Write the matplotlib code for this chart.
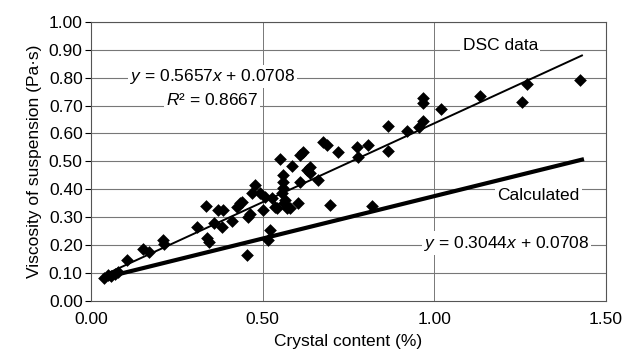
import matplotlib
matplotlib.use('Agg')
import matplotlib.pyplot as plt
import numpy as np

plt.rcParams['font.family'] = ['Liberation Sans', 'DejaVu Sans']
plt.rcParams['mathtext.fontset'] = 'custom'
plt.rcParams['mathtext.it'] = 'Liberation Sans:italic'
plt.rcParams['mathtext.rm'] = 'Liberation Sans'

# measured points (crystal content %, viscosity Pa.s)
crystal = [0.038, 0.050, 0.058, 0.070, 0.079, 0.105, 0.152, 0.169, 0.210, 0.212,
           0.309, 0.335, 0.338, 0.344, 0.359, 0.370, 0.385, 0.382, 0.411, 0.426,
           0.434, 0.440, 0.458, 0.455, 0.463, 0.469, 0.478, 0.493, 0.501, 0.507,
           0.516, 0.522, 0.528, 0.536, 0.542, 0.551, 0.557, 0.560, 0.560, 0.560,
           0.563, 0.566, 0.571, 0.580, 0.586, 0.603, 0.609, 0.609, 0.618, 0.630,
           0.638, 0.638, 0.662, 0.676, 0.688, 0.697, 0.720, 0.776, 0.778, 0.808,
           0.819, 0.866, 0.866, 0.921, 0.956, 0.968, 0.968, 0.968, 1.020, 1.134,
           1.254, 1.271, 1.423]
viscosity = [0.082, 0.092, 0.088, 0.095, 0.103, 0.146, 0.186, 0.175, 0.218, 0.205,
             0.264, 0.340, 0.225, 0.211, 0.279, 0.326, 0.326, 0.264, 0.286, 0.336,
             0.350, 0.354, 0.300, 0.164, 0.310, 0.386, 0.415, 0.386, 0.326, 0.372,
             0.218, 0.254, 0.369, 0.337, 0.332, 0.509, 0.386, 0.404, 0.425, 0.450,
             0.350, 0.360, 0.332, 0.332, 0.483, 0.350, 0.425, 0.523, 0.534, 0.470,
             0.480, 0.459, 0.434, 0.570, 0.560, 0.343, 0.534, 0.552, 0.515, 0.559,
             0.339, 0.627, 0.537, 0.609, 0.623, 0.645, 0.709, 0.727, 0.688, 0.734,
             0.713, 0.777, 0.792]

# trend lines
dsc_slope, dsc_icpt = 0.5657, 0.0708
calc_slope, calc_icpt = 0.3044, 0.0708
line_range = [0.035, 1.43]

fs = 12.5
fig = plt.figure(figsize=(6.26, 3.6), dpi=100)
ax = fig.add_axes([0.1454, 0.1647, 0.8226, 0.7743])

ax.set_xlim(0, 1.5)
ax.set_ylim(0, 1.0)
ax.set_xticks([0, 0.5, 1.0, 1.5])
ax.set_yticks(np.arange(0, 1.01, 0.1))
ax.set_xticklabels(['%.2f' % v for v in [0, 0.5, 1.0, 1.5]])
ax.set_yticklabels(['%.2f' % v for v in np.arange(0, 1.01, 0.1)])
ax.tick_params(labelsize=fs, length=4, width=0.8, color='black', pad=2)
ax.tick_params(axis='x', length=0, pad=8)

for yv in np.arange(0.1, 1.01, 0.1):
    ax.axhline(yv, color='#777777', lw=0.8, zorder=0)
for xv in [0.5, 1.0]:
    ax.axvline(xv, color='#777777', lw=0.7, zorder=0)
for s in ax.spines.values():
    s.set_linewidth(0.8)
    s.set_color('#555555')

xl = np.array(line_range)
ax.plot(xl, dsc_slope * xl + dsc_icpt, color='black', lw=1.4, zorder=2)
ax.plot(xl, calc_slope * xl + calc_icpt, color='black', lw=3.0, zorder=2)
ax.scatter(crystal, viscosity, marker='D', s=42, color='black', zorder=3, linewidths=0)

box = dict(facecolor='white', edgecolor='none', pad=1.5)
ax.text(0.353, 0.805, '$y$ = 0.5657$x$ + 0.0708', ha='center', va='center',
        fontsize=fs, bbox=box, zorder=4)
ax.text(0.353, 0.72, '$R$² = 0.8667', ha='center', va='center',
        fontsize=fs, bbox=box, zorder=4)
ax.text(1.192, 0.917, 'DSC data', ha='center', va='center', fontsize=fs, bbox=box, zorder=4)
ax.text(1.303, 0.379, 'Calculated', ha='center', va='center', fontsize=fs, bbox=box, zorder=4)
ax.text(1.21, 0.207, '$y$ = 0.3044$x$ + 0.0708', ha='center', va='center',
        fontsize=fs, bbox=box, zorder=4)

ax.set_xlabel('Crystal content (%)', fontsize=fs, labelpad=5)
ax.set_ylabel('Viscosity of suspension (Pa·s)', fontsize=fs, labelpad=5)

fig.savefig('out.png', dpi=100)
